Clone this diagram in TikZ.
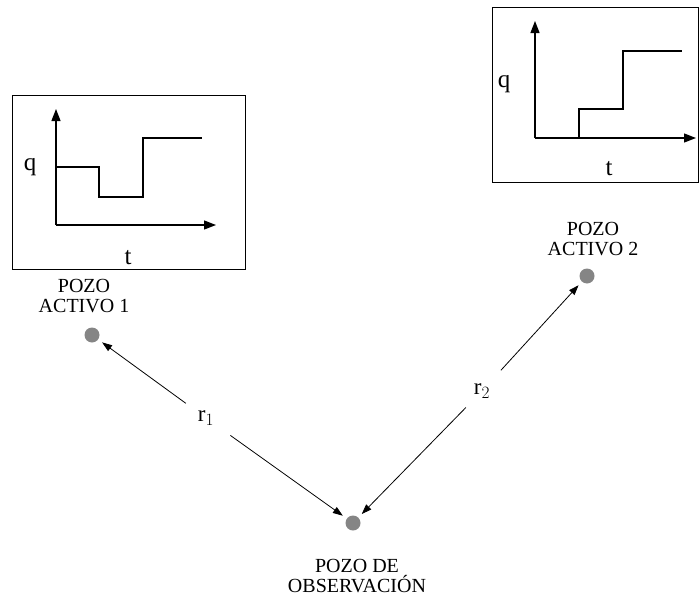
\documentclass[tikz,border=0pt]{standalone}
\usepackage{fontspec}
\setmainfont{Liberation Serif}
\usetikzlibrary{arrows.meta}
\tikzset{
  frame/.style={draw, line width=1.2pt},
  axis/.style={line width=1.3pt, -{Triangle[length=12pt,width=9pt]}},
  curve/.style={line width=1.2pt},
  well/.style={circle, fill=black!48, minimum size=15pt, inner sep=0pt, outer sep=5pt},
  wlabel/.style={align=center, font=\fontsize{20}{20.5}\selectfont},
  axlabel/.style={font=\fontsize{25}{26}\selectfont, inner sep=0pt},
  rlabel/.style={font=\fontsize{23}{24}\selectfont, inner sep=0pt},
  link/.style={line width=0.8pt, -{Triangle[length=10pt,width=7pt]}}
}
\begin{document}
\begin{tikzpicture}[x=1pt,y=-1pt]
\useasboundingbox (0,0) rectangle (699,597);

% first rate history
\node[frame, minimum width=233pt, minimum height=174pt, inner sep=0pt, anchor=north west] (box1) at (12,95) {};
\coordinate (o1) at (56,225);
\draw[axis] (o1) -- (56,109);
\draw[axis] (o1) -- (216,225);
\draw[curve] (56,167) -- (99,167) -- (99,197) -- (143,197) -- (143,138) -- (202,138);
\node[axlabel] (q1) at (30,167) {q};
\node[axlabel] (t1) at (128,258) {t};

% second rate history
\node[frame, minimum width=206pt, minimum height=175pt, inner sep=0pt, anchor=north west] (box2) at (492,7) {};
\coordinate (o2) at (535,138);
\draw[axis] (o2) -- (535,21);
\draw[axis] (o2) -- (696,138);
\draw[curve] (579,138) -- (579,109) -- (623,109) -- (623,51) -- (682,51);
\node[axlabel] (q2) at (504,84) {q};
\node[axlabel] (t2) at (609,169) {t};

% wells
\node[well] (w1) at (92,335) {};
\node[well] (w2) at (587,276) {};
\node[well] (obs) at (353,523) {};
\node[wlabel] (lw1) at (84,296) {POZO\\ACTIVO 1};
\node[wlabel] (lw2) at (593,239) {POZO\\ACTIVO 2};
\node[wlabel] (lobs) at (357,576) {POZO DE\\OBSERVACIÓN};

% distances
\node[rlabel] (r1) at (206,418) {r$_1$};
\node[rlabel] (r2) at (482,391) {r$_2$};
\draw[link, shorten <=25pt] (r1.center) -- (w1);
\draw[link, shorten <=30pt] (r1.center) -- (obs);
\draw[link, shorten <=28pt] (r2.center) -- (w2);
\draw[link, shorten <=23pt] (r2.center) -- (obs);
\end{tikzpicture}
\end{document}
